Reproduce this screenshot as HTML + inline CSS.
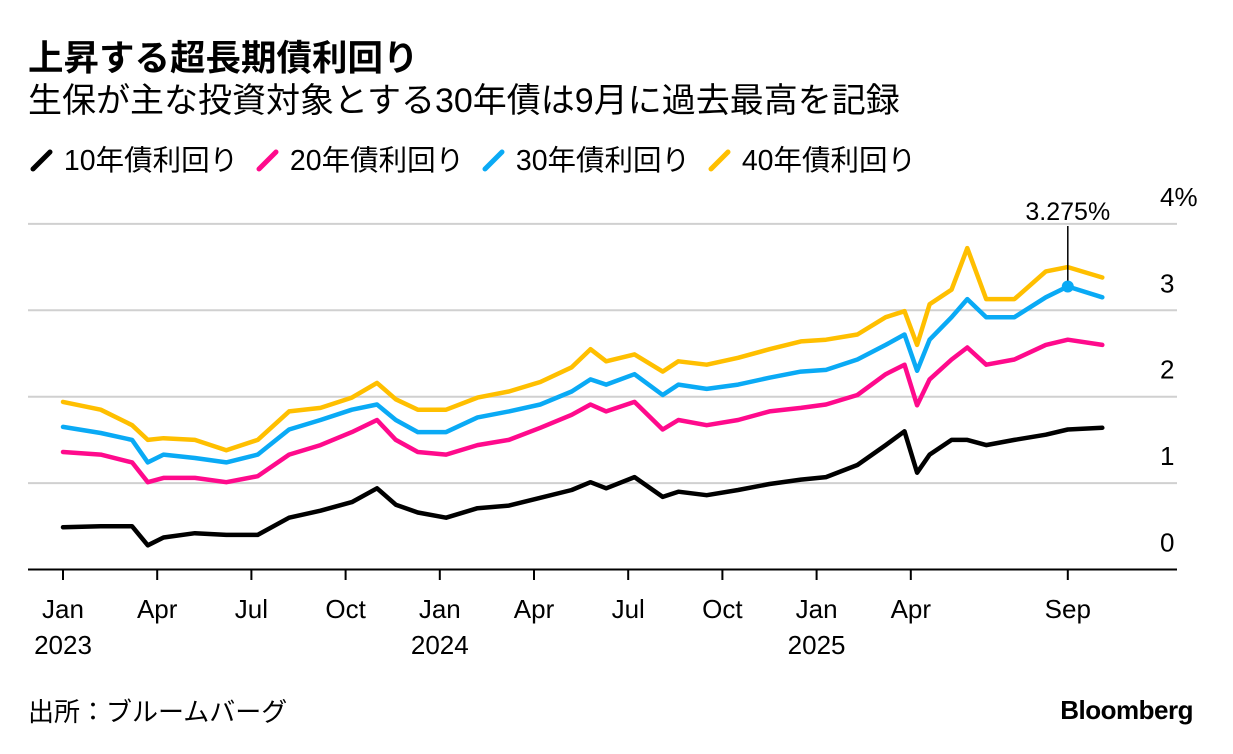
<!DOCTYPE html>
<html><head><meta charset="utf-8"><style>
body{margin:0;background:#fff;width:1233px;height:754px;overflow:hidden;font-family:"Liberation Sans","Noto Sans CJK JP",sans-serif;color:#000}
.t{position:absolute;white-space:nowrap}
</style></head><body>
<div class="t" style="left:28px;top:37px;font-size:35.5px;font-weight:bold;line-height:1.2">上昇する超長期債利回り</div>
<div class="t" style="left:28px;top:81px;font-size:34px;line-height:1.2">生保が主な投資対象とする30年債は9月に過去最高を記録</div>
<div class="t" style="left:28px;top:144px;font-size:28.5px;line-height:1.2">
<span><svg width="28" height="26" style="vertical-align:-3px"><line x1="5" y1="22" x2="22" y2="5" stroke="#000" stroke-width="5" stroke-linecap="round"/></svg> 10年債利回り</span>&nbsp;
<span><svg width="28" height="26" style="vertical-align:-3px"><line x1="5" y1="22" x2="22" y2="5" stroke="#ff0a8c" stroke-width="5" stroke-linecap="round"/></svg> 20年債利回り</span>&nbsp;
<span><svg width="28" height="26" style="vertical-align:-3px"><line x1="5" y1="22" x2="22" y2="5" stroke="#0aaaf5" stroke-width="5" stroke-linecap="round"/></svg> 30年債利回り</span>&nbsp;
<span><svg width="28" height="26" style="vertical-align:-3px"><line x1="5" y1="22" x2="22" y2="5" stroke="#ffbf00" stroke-width="5" stroke-linecap="round"/></svg> 40年債利回り</span>
</div>
<svg id="chart" width="1233" height="754" style="position:absolute;left:0;top:0"></svg>
<div class="t" style="left:28px;top:697px;font-size:26px;line-height:1.2">出所：ブルームバーグ</div>
<div class="t" style="right:40px;top:695px;font-size:26px;font-weight:bold;letter-spacing:-0.5px">Bloomberg</div>
<script>
const dates=[0,1.2,2.2,2.7,3.2,4.2,5.2,6.2,7.2,8.2,9.2,10.0,10.6,11.3,12.2,13.2,14.2,15.2,16.2,16.8,17.3,18.2,19.1,19.6,20.5,21.5,22.5,23.5,24.3,25.3,26.2,26.8,27.2,27.6,28.3,28.8,29.4,30.3,31.3,32.0,33.1];
const y10=[0.49,0.5,0.5,0.28,0.37,0.42,0.4,0.4,0.6,0.68,0.78,0.94,0.75,0.66,0.6,0.71,0.74,0.83,0.92,1.01,0.94,1.07,0.84,0.9,0.86,0.92,0.99,1.04,1.07,1.21,1.44,1.6,1.12,1.33,1.5,1.5,1.44,1.5,1.56,1.62,1.64];
const y20=[1.36,1.33,1.24,1.01,1.06,1.06,1.01,1.08,1.33,1.44,1.59,1.73,1.5,1.36,1.33,1.44,1.5,1.64,1.79,1.91,1.83,1.94,1.62,1.73,1.67,1.73,1.83,1.87,1.91,2.02,2.26,2.37,1.9,2.2,2.43,2.57,2.37,2.43,2.6,2.66,2.6];
const y30=[1.65,1.58,1.5,1.24,1.33,1.29,1.24,1.33,1.62,1.73,1.85,1.91,1.73,1.59,1.59,1.76,1.83,1.91,2.06,2.2,2.14,2.26,2.02,2.14,2.09,2.14,2.22,2.29,2.31,2.43,2.6,2.72,2.3,2.66,2.92,3.13,2.92,2.92,3.15,3.275,3.15];
const y40=[1.94,1.85,1.67,1.5,1.52,1.5,1.38,1.5,1.83,1.87,1.99,2.16,1.97,1.85,1.85,1.99,2.06,2.17,2.34,2.55,2.41,2.49,2.29,2.41,2.37,2.45,2.55,2.64,2.66,2.72,2.92,2.99,2.6,3.07,3.24,3.72,3.13,3.13,3.45,3.5,3.38];
const yTicks=[0,1,2,3,4];
const xTickPos=[0,3,6,9,12,15,18,21,24,27,32];
const xTickLabels=["Jan","Apr","Jul","Oct","Jan","Apr","Jul","Oct","Jan","Apr","Sep"];
const xYearLabels=["2023","","","","2024","","","","2025","",""];
const peakValue=3.275, peakDate=32.0;

const svg=document.getElementById('chart');const NS='http://www.w3.org/2000/svg';
const X=m=>63+m*31.4; const Y=v=>569.5-v*86.4;
const FF='Liberation Sans, sans-serif';
function mk(tag,attrs,parent){const e=document.createElementNS(NS,tag);for(const k in attrs)e.setAttribute(k,attrs[k]);(parent||svg).appendChild(e);return e;}
yTicks.forEach((v,i)=>{
  if(v>0){const g=mk('line',{x1:28,x2:1177,y1:Y(v),y2:Y(v),stroke:'#d0d0d0','stroke-width':2});
  
  }
  const t=mk('text',{x:1160,y:Y(v)-18,'font-size':26,'font-family':FF});
  t.textContent=v===4?'4%':String(v);
  
  
});
const ax=mk('line',{x1:28,x2:1177,y1:569.5,y2:569.5,stroke:'#000','stroke-width':2});


xTickPos.forEach((m,i)=>{
  const tk=mk('line',{x1:X(m),x2:X(m),y1:569,y2:580,stroke:'#000','stroke-width':2});
  
  
  const t=mk('text',{x:X(m),y:618,'font-size':26,'text-anchor':'middle','font-family':FF});
  t.textContent=xTickLabels[i];
  
  
  if(xYearLabels[i]){const y=mk('text',{x:X(m),y:654,'font-size':26,'text-anchor':'middle','font-family':FF});
  y.textContent=xYearLabels[i];
  
  }
});
const series=[[y40,'#ffbf00','line-40y'],[y30,'#0aaaf5','line-30y'],[y20,'#ff0a8c','line-20y'],[y10,'#000','line-10y']];
series.forEach(([vals,c,n])=>{
  const d=vals.map((v,i)=>(i?'L':'M')+X(dates[i]).toFixed(1)+' '+Y(v).toFixed(1)).join(' ');
  const p=mk('path',{d:d,fill:'none',stroke:c,'stroke-width':4.5,'stroke-linejoin':'round','stroke-linecap':'round'});
  
  
});
const al=mk('line',{x1:X(peakDate),x2:X(peakDate),y1:226,y2:Y(peakValue),stroke:'#000','stroke-width':1.5});


const dot=mk('circle',{cx:X(peakDate),cy:Y(peakValue),r:6,fill:'#0aaaf5'});


const at=mk('text',{x:X(peakDate),y:220,'font-size':25,'text-anchor':'middle','font-family':FF});
at.textContent=peakValue.toFixed(3)+'%';


</script>
</body></html>
